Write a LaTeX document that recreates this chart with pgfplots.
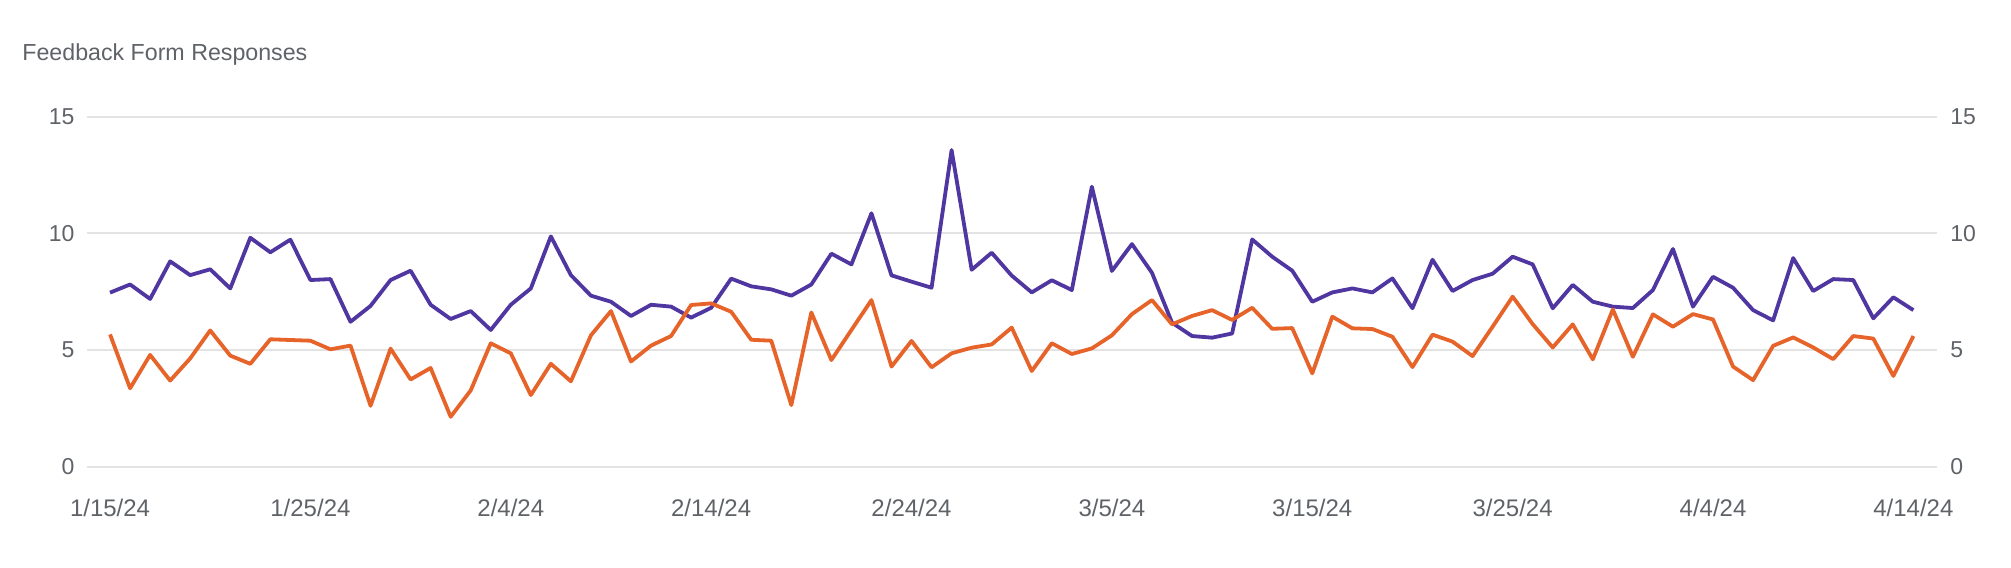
\documentclass[border=0pt]{standalone}
\usepackage{fontspec}
\setmainfont{Liberation Sans}
\usepackage{pgfplots}
\usepackage{pgfplotstable}
\pgfplotsset{compat=1.18}
\definecolor{lpurple}{HTML}{5036A0}
\definecolor{lorange}{HTML}{E6632A}
\definecolor{textgray}{HTML}{5F6368}
\definecolor{gridgray}{HTML}{E3E3E3}
\pgfplotstableread{
x p o
0 7.46 5.67
1 7.81 3.36
2 7.19 4.79
3 8.80 3.69
4 8.21 4.64
5 8.46 5.84
6 7.64 4.76
7 9.81 4.41
8 9.19 5.46
9 9.73 5.43
10 8.00 5.40
11 8.04 5.03
12 6.21 5.19
13 6.89 2.61
14 8.00 5.06
15 8.40 3.74
16 6.94 4.23
17 6.33 2.14
18 6.67 3.27
19 5.86 5.29
20 6.94 4.86
21 7.64 3.07
22 9.87 4.41
23 8.21 3.66
24 7.33 5.63
25 7.07 6.67
26 6.46 4.51
27 6.94 5.19
28 6.86 5.60
29 6.39 6.93
30 6.81 7.00
31 8.06 6.64
32 7.73 5.44
33 7.60 5.40
34 7.33 2.64
35 7.81 6.61
36 9.13 4.57
37 8.67 5.86
38 10.86 7.14
39 8.20 4.29
40 7.93 5.39
41 7.67 4.26
42 13.57 4.86
43 8.44 5.10
44 9.17 5.24
45 8.19 5.96
46 7.47 4.10
47 7.99 5.29
48 7.57 4.83
49 12.00 5.07
50 8.39 5.63
51 9.54 6.54
52 8.31 7.14
53 6.17 6.10
54 5.60 6.46
55 5.53 6.71
56 5.71 6.29
57 9.74 6.81
58 9.00 5.91
59 8.40 5.94
60 7.07 4.00
61 7.47 6.43
62 7.64 5.93
63 7.47 5.90
64 8.07 5.57
65 6.79 4.27
66 8.87 5.66
67 7.53 5.36
68 8.00 4.74
69 8.27 6.00
70 9.00 7.29
71 8.67 6.11
72 6.79 5.11
73 7.79 6.10
74 7.07 4.60
75 6.86 6.74
76 6.80 4.71
77 7.57 6.53
78 9.33 6.00
79 6.86 6.54
80 8.14 6.31
81 7.67 4.29
82 6.71 3.71
83 6.27 5.18
84 8.94 5.54
85 7.53 5.11
86 8.04 4.61
87 8.00 5.60
88 6.36 5.49
89 7.26 3.89
90 6.71 5.60
}\datatable
\pgfplotsset{
  base/.style={
    scale only axis, width=925pt, height=175pt,
    xmin=-1.165, xmax=91.165, ymin=0, ymax=15,
    axis line style={draw=none},
    major tick length=0pt,
    ytick={0,5,10,15},
    tick label style={font=\fontsize{11.5}{13}\selectfont, text=textgray},
    /pgf/number format/assume math mode=true,
  }
}
\begin{document}
\begin{tikzpicture}
\path[use as bounding box] (-43.35pt,-50.15pt) rectangle (962.15pt,233.35pt);
\begin{axis}[base,
  ymajorgrids, grid style={draw=gridgray, line width=1pt},
  yticklabel pos=left,
  yticklabel style={anchor=east, inner sep=0pt, xshift=-5.9pt},
  xtick={0,10,...,90},
  xticklabels={1/15/24,1/25/24,2/4/24,2/14/24,2/24/24,3/5/24,3/15/24,3/25/24,4/4/24,4/14/24},
  xticklabel pos=lower,
  xticklabel style={anchor=north, inner sep=0pt, yshift=-16.2pt, font=\fontsize{12}{14}\selectfont},
]
\addplot[lpurple, line width=1.9pt, line join=round, no marks] table[x=x, y=p] {\datatable};
\end{axis}
\begin{axis}[base,
  yticklabel pos=right,
  yticklabel style={anchor=west, inner sep=0pt, xshift=6.6pt},
  xtick=\empty,
]
\addplot[lorange, line width=1.9pt, line join=round, no marks] table[x=x, y=o] {\datatable};
\end{axis}
\node[anchor=base west, inner sep=0pt, text=textgray, font=\fontsize{11.6}{14}\selectfont] at (-32.35pt,202.85pt) {Feedback Form Responses};
\end{tikzpicture}
\end{document}
